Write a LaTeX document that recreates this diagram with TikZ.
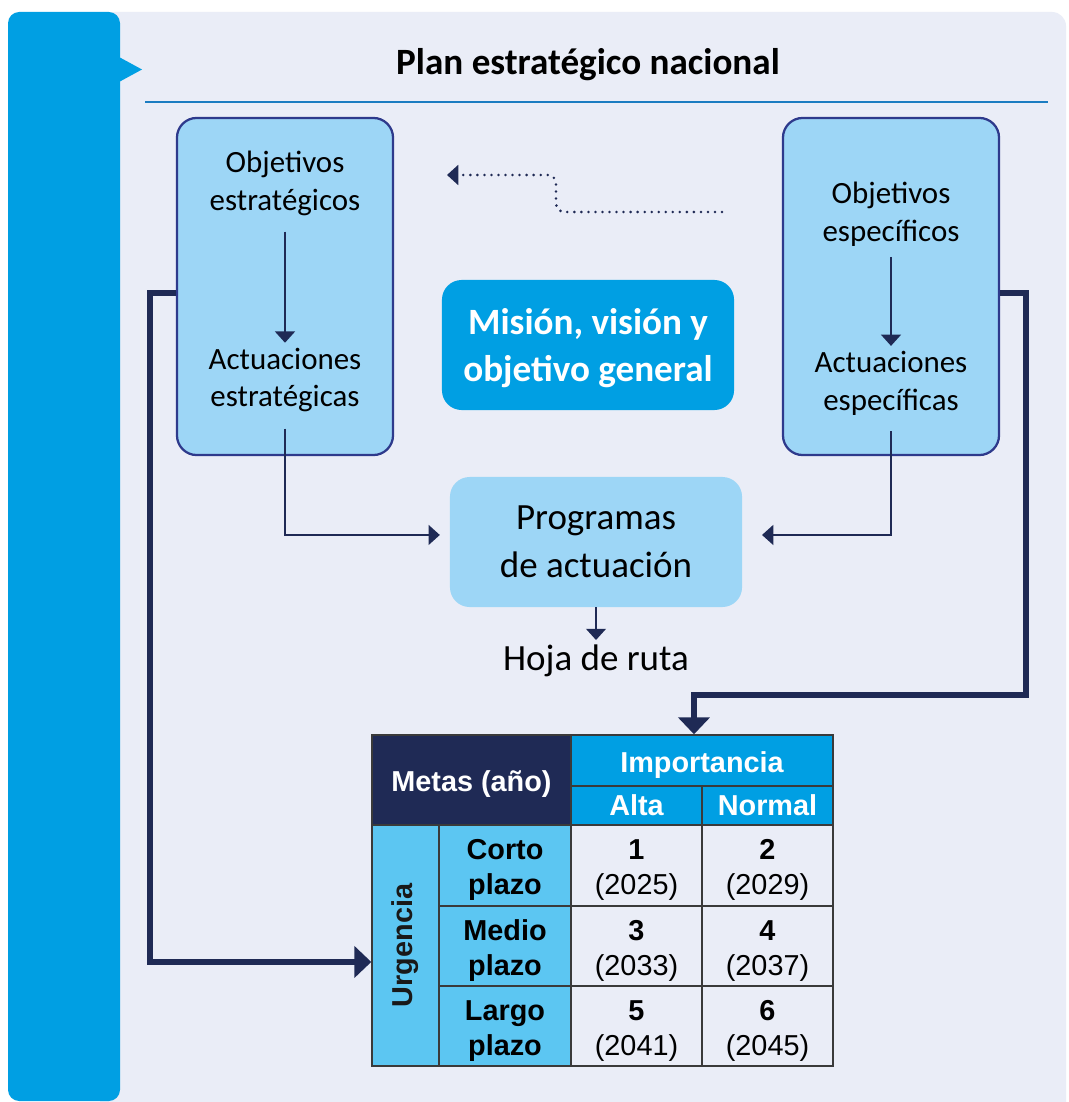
\documentclass[tikz,border=0pt]{standalone}
\usepackage{fontspec}
\setmainfont{Carlito}
\newfontfamily\arialfont{Liberation Sans}
\usetikzlibrary{arrows.meta}
\definecolor{panelbg}{HTML}{EAEDF7}
\definecolor{barblue}{HTML}{009FE3}
\definecolor{boxblue}{HTML}{9DD6F6}
\definecolor{boxline}{HTML}{2E3A8C}
\definecolor{navy}{HTML}{1F2A55}
\definecolor{tabblue}{HTML}{5CC6F2}
\definecolor{ruleblue}{HTML}{1B7CC1}
\definecolor{gridgray}{HTML}{3A3A3A}

\begin{document}
\begin{tikzpicture}[x=0.025cm, y=-0.025cm,
  goalbox/.style={draw=boxline, line width=1.6pt, fill=boxblue, rounded corners=14pt, minimum width=5.4cm, minimum height=8.425cm},
  boxtext/.style={align=center, font=\fontsize{22}{27}\selectfont},
  bigtext/.style={align=center, font=\fontsize{26.3}{34}\selectfont},
  thinarrow/.style={draw=navy, line width=1.6pt, -{Triangle[width=14pt,length=8pt]}},
  thickarrow/.style={draw=navy, line width=4pt, -{Triangle[width=22pt,length=12pt]}},
  cellbox/.style={draw=gridgray, line width=1pt, inner sep=0pt, align=center, font=\arialfont\fontsize{20.5}{25}\selectfont},
  boldcell/.style={cellbox, font=\arialfont\bfseries\fontsize{20.5}{25}\selectfont},
  sunk/.style={text height=21pt},
  sunktwo/.style={text height=46pt},
  colw/.style={minimum width=3.275cm},
  roww/.style={minimum height=2.0cm}]
  \clip (0,0) rectangle (1068,1102);
  \fill[white] (0,0) rectangle (1068,1102);
  % panel and side bar
  \fill[panelbg, rounded corners=10pt] (100,12) rectangle (1066,1130);
  \fill[barblue, rounded corners=8pt] (8,12) rectangle (120,1101);
  \fill[barblue] (119,57) -- (142,69.5) -- (119,82) -- cycle;

  \node[font=\bfseries\fontsize{26.4}{32}\selectfont] (title) at (588,65) {Plan estratégico nacional};
  \draw[ruleblue, line width=0.8pt] (145,102) -- (1048,102);

  % objective boxes
  \node[goalbox] (estbox) at (285,286.5) {};
  \node[goalbox] (espbox) at (891,286.5) {};
  \node[boxtext] (objest) at (285,183) {Objetivos\\estratégicos};
  \node[boxtext] (actest) at (285,380) {Actuaciones\\estratégicas};
  \node[boxtext] (objesp) at (891,214) {Objetivos\\específicos};
  \node[boxtext] (actesp) at (891,383) {Actuaciones\\específicas};
  \draw[thinarrow, shorten <=8pt] (objest.south) -- (actest.north);
  \draw[thinarrow, shorten <=4pt] (objesp.south) -- (actesp.north);

  \node[fill=barblue, rounded corners=14pt, minimum width=7.3cm, minimum height=3.25cm, text=white,
        align=center, font=\bfseries\fontsize{26.4}{33.4}\selectfont] (mision) at (588,345) {\rule{0pt}{23pt}Misión, visión y\\objetivo general};
  \node[bigtext, fill=boxblue, rounded corners=14pt, minimum width=7.3cm, minimum height=3.25cm] (prog) at (596,542) {Programas\\de actuación};
  \node[bigtext] (hoja) at (596,661) {Hoja de ruta};

  \draw[thinarrow, shorten <=8pt, shorten >=7pt] (actest.south) |- ([yshift=5pt]prog.west);
  \draw[thinarrow, shorten <=8pt, shorten >=14pt] (actesp.south) |- ([yshift=5pt]prog.east);
  \draw[thinarrow] (prog.south) -- (hoja.north);

  % dotted link
  \coordinate (dotfrom) at (722,212);
  \coordinate (dotto) at (447,175);
  \draw[navy, line width=2pt, line cap=round, dash pattern=on 0pt off 5pt, rounded corners=6pt,
        -{Triangle[width=14pt,length=8pt]}] (dotfrom) -- (556,212) -- (556,175) -- (dotto);

  % goals table
  \node[boldcell, sunk, fill=navy, text=white, minimum width=4.975cm, minimum height=2.25cm] (metas) at (471.5,780) {Metas (año)};
  \node[boldcell, sunk, fill=barblue, text=white, minimum width=6.55cm, minimum height=1.275cm] (imp) at (702,760.5) {Importancia};
  \node[boldcell, fill=barblue, text=white, colw, minimum height=0.975cm] (alta) at (636.5,805.5) {Alta};
  \node[boldcell, fill=barblue, text=white, colw, minimum height=0.975cm] (normal) at (767.5,805.5) {Normal};
  \node[boldcell, fill=tabblue, text=black!90, minimum width=1.675cm, minimum height=6.025cm] (urg) at (405.5,945.5) {\rotatebox{90}{Urgencia}};
  \node[boldcell, sunktwo, fill=tabblue, minimum width=3.3cm, minimum height=2.025cm] (corto) at (505,865.5) {Corto\\plazo};
  \node[boldcell, sunktwo, fill=tabblue, minimum width=3.3cm, roww] (medio) at (505,946) {Medio\\plazo};
  \node[boldcell, sunktwo, fill=tabblue, minimum width=3.3cm, roww] (largo) at (505,1026) {Largo\\plazo};
  \node[cellbox, sunktwo, colw, minimum height=2.025cm] (c11) at (636.5,865.5) {\textbf{1}\\(2025)};
  \node[cellbox, sunktwo, colw, minimum height=2.025cm] (c12) at (767.5,865.5) {\textbf{2}\\(2029)};
  \node[cellbox, sunktwo, colw, roww] (c21) at (636.5,946) {\textbf{3}\\(2033)};
  \node[cellbox, sunktwo, colw, roww] (c22) at (767.5,946) {\textbf{4}\\(2037)};
  \node[cellbox, sunktwo, colw, roww] (c31) at (636.5,1026) {\textbf{5}\\(2041)};
  \node[cellbox, sunktwo, colw, roww] (c32) at (767.5,1026) {\textbf{6}\\(2045)};

  % thick links into the table
  \coordinate (tabin) at ([xshift=-5.7pt]imp.north);
  \draw[thickarrow] ([yshift=-4.6pt]estbox.west) -- ++(-26,0) |- ([yshift=-11.7pt]urg.west);
  \draw[thickarrow] ([yshift=-4.6pt]espbox.east) -- ++(26,0) |- (tabin |- 0,695) -- (tabin);
\end{tikzpicture}
\end{document}
